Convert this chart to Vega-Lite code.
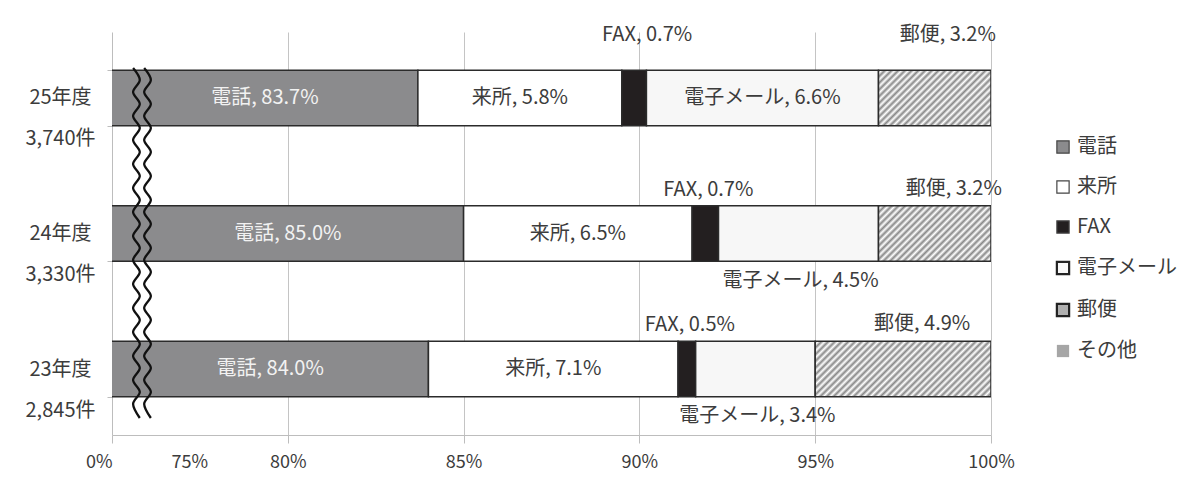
{
  "$schema": "https://vega.github.io/schema/vega-lite/v6.json",
  "width": 879,
  "height": 403,
  "autosize": {"type": "none"},
  "padding": {"left": 112, "top": 32, "right": 207, "bottom": 53},
  "background": "white",
  "config": {"font": "Noto Sans CJK JP", "view": {"stroke": null}},
  "datasets": {
    "bars": [
      {"year": "25年度|3,740件", "cat": "電話", "ord": 1, "value": 83.7, "lab": "電話, 83.7%"},
      {"year": "25年度|3,740件", "cat": "来所", "ord": 2, "value": 5.8, "lab": "来所, 5.8%"},
      {"year": "25年度|3,740件", "cat": "FAX", "ord": 3, "value": 0.7, "lab": "FAX, 0.7%"},
      {"year": "25年度|3,740件", "cat": "電子メール", "ord": 4, "value": 6.6, "lab": "電子メール, 6.6%"},
      {"year": "25年度|3,740件", "cat": "郵便", "ord": 5, "value": 3.2, "lab": "郵便, 3.2%"},
      {"year": "24年度|3,330件", "cat": "電話", "ord": 1, "value": 85.0, "lab": "電話, 85.0%"},
      {"year": "24年度|3,330件", "cat": "来所", "ord": 2, "value": 6.5, "lab": "来所, 6.5%"},
      {"year": "24年度|3,330件", "cat": "FAX", "ord": 3, "value": 0.75, "lab": "FAX, 0.7%"},
      {"year": "24年度|3,330件", "cat": "電子メール", "ord": 4, "value": 4.55, "lab": "電子メール, 4.5%"},
      {"year": "24年度|3,330件", "cat": "郵便", "ord": 5, "value": 3.2, "lab": "郵便, 3.2%"},
      {"year": "23年度|2,845件", "cat": "電話", "ord": 1, "value": 84.0, "lab": "電話, 84.0%"},
      {"year": "23年度|2,845件", "cat": "来所", "ord": 2, "value": 7.1, "lab": "来所, 7.1%"},
      {"year": "23年度|2,845件", "cat": "FAX", "ord": 3, "value": 0.5, "lab": "FAX, 0.5%"},
      {"year": "23年度|2,845件", "cat": "電子メール", "ord": 4, "value": 3.4, "lab": "電子メール, 3.4%"},
      {"year": "23年度|2,845件", "cat": "郵便", "ord": 5, "value": 5.0, "lab": "郵便, 4.9%"}
    ],
    "wave": [
      {"g": 1, "wy": 36, "wx": 75.6}, {"g": 1, "wy": 48, "wx": 75.79}, {"g": 1, "wy": 60, "wx": 75.6}, {"g": 1, "wy": 72, "wx": 75.79},
      {"g": 1, "wy": 84, "wx": 75.6}, {"g": 1, "wy": 96, "wx": 75.79}, {"g": 1, "wy": 108, "wx": 75.6}, {"g": 1, "wy": 120, "wx": 75.79},
      {"g": 1, "wy": 132, "wx": 75.6}, {"g": 1, "wy": 144, "wx": 75.79}, {"g": 1, "wy": 156, "wx": 75.6}, {"g": 1, "wy": 168, "wx": 75.79},
      {"g": 1, "wy": 180, "wx": 75.6}, {"g": 1, "wy": 192, "wx": 75.79}, {"g": 1, "wy": 204, "wx": 75.6}, {"g": 1, "wy": 216, "wx": 75.79},
      {"g": 1, "wy": 228, "wx": 75.6}, {"g": 1, "wy": 240, "wx": 75.79}, {"g": 1, "wy": 252, "wx": 75.6}, {"g": 1, "wy": 264, "wx": 75.79},
      {"g": 1, "wy": 276, "wx": 75.6}, {"g": 1, "wy": 288, "wx": 75.79}, {"g": 1, "wy": 300, "wx": 75.6}, {"g": 1, "wy": 312, "wx": 75.79},
      {"g": 1, "wy": 324, "wx": 75.6}, {"g": 1, "wy": 336, "wx": 75.79}, {"g": 1, "wy": 348, "wx": 75.6}, {"g": 1, "wy": 360, "wx": 75.79},
      {"g": 1, "wy": 372, "wx": 75.6}, {"g": 1, "wy": 386, "wx": 75.79},
      {"g": 2, "wy": 36, "wx": 75.915}, {"g": 2, "wy": 48, "wx": 76.105}, {"g": 2, "wy": 60, "wx": 75.915}, {"g": 2, "wy": 72, "wx": 76.105},
      {"g": 2, "wy": 84, "wx": 75.915}, {"g": 2, "wy": 96, "wx": 76.105}, {"g": 2, "wy": 108, "wx": 75.915}, {"g": 2, "wy": 120, "wx": 76.105},
      {"g": 2, "wy": 132, "wx": 75.915}, {"g": 2, "wy": 144, "wx": 76.105}, {"g": 2, "wy": 156, "wx": 75.915}, {"g": 2, "wy": 168, "wx": 76.105},
      {"g": 2, "wy": 180, "wx": 75.915}, {"g": 2, "wy": 192, "wx": 76.105}, {"g": 2, "wy": 204, "wx": 75.915}, {"g": 2, "wy": 216, "wx": 76.105},
      {"g": 2, "wy": 228, "wx": 75.915}, {"g": 2, "wy": 240, "wx": 76.105}, {"g": 2, "wy": 252, "wx": 75.915}, {"g": 2, "wy": 264, "wx": 76.105},
      {"g": 2, "wy": 276, "wx": 75.915}, {"g": 2, "wy": 288, "wx": 76.105}, {"g": 2, "wy": 300, "wx": 75.915}, {"g": 2, "wy": 312, "wx": 76.105},
      {"g": 2, "wy": 324, "wx": 75.915}, {"g": 2, "wy": 336, "wx": 76.105}, {"g": 2, "wy": 348, "wx": 75.915}, {"g": 2, "wy": 360, "wx": 76.105},
      {"g": 2, "wy": 372, "wx": 75.915}, {"g": 2, "wy": 386, "wx": 76.105}
    ]
  },
  "layer": [
    {
      "data": {"name": "bars"},
      "transform": [
        {"stack": "value", "groupby": ["year"], "sort": [{"field": "ord", "order": "ascending"}], "as": ["x0", "x1"]},
        {"calculate": "(max(datum.x0, 75) + datum.x1) / 2", "as": "mid"}
      ],
      "encoding": {
        "y": {
          "field": "year", "type": "nominal", "title": null,
          "sort": ["25年度|3,740件", "24年度|3,330件", "23年度|2,845件"],
          "scale": {"paddingInner": 0.59, "paddingOuter": 0.282},
          "axis": {
            "labelExpr": "isValid(datum.value) ? split(datum.value, '|') : ''",
            "labelFontSize": 20, "labelColor": "#3c3c3c",
            "labelAlign": "center", "labelBaseline": "middle",
            "labelLineHeight": 41, "labelOffset": 0, "labelPadding": 47,
            "tickSize": 5, "tickColor": "#bdbdbd", "domainColor": "#bdbdbd",
            "tickBand": "extent", "labelBound": false, "labelOverlap": false
          }
        }
      },
      "layer": [
        {
          "mark": {"type": "bar", "clip": true, "stroke": "#2b2b2b", "strokeWidth": 1.5},
          "encoding": {
            "x": {
              "field": "x0", "type": "quantitative", "title": null,
              "scale": {"domain": [75, 100], "nice": false, "zero": false},
              "axis": {
                "values": [75, 77.2, 80, 85, 90, 95, 100],
                "labelExpr": "datum.value == 75 ? '0%' : (datum.value == 77.2 ? '75%' : datum.value + '%')",
                "grid": true,
                "gridColor": {"condition": {"test": "datum.value == 75 || datum.value == 77.2", "value": "transparent"}, "value": "#c4c4c4"},
                "tickColor": {"condition": {"test": "datum.value == 77.2", "value": "transparent"}, "value": "#bdbdbd"},
                "labelAlign": {"condition": {"test": "datum.value == 75", "value": "right"}, "value": "center"},
                "domainColor": "#bdbdbd", "tickSize": 8,
                "labelFontSize": 18, "labelColor": "#3c3c3c", "labelPadding": 10,
                "labelFlush": false, "labelOverlap": false
              }
            },
            "x2": {"field": "x1"},
            "fill": {
              "field": "cat", "type": "nominal",
              "scale": {
                "domain": ["電話", "来所", "FAX", "電子メール", "郵便", "その他"],
                "range": ["#8b8b8d", "#ffffff", "#231f20", "#f7f7f7", "#b0b0b0", "#a6a6a6"]
              },
              "condition": [
                {"test": "datum.cat == '郵便' && substring(datum.year, 0, 2) == '23'", "value": {"gradient": "linear", "x1": 0, "y1": 0, "x2": 1.733, "y2": 0.548, "stops": [
                  {"offset": 0, "color": "#888"}, {"offset": 0.01, "color": "#fff"}, {"offset": 0.02, "color": "#888"}, {"offset": 0.03, "color": "#fff"}, {"offset": 0.04, "color": "#888"}, {"offset": 0.05, "color": "#fff"}, {"offset": 0.06, "color": "#888"}, {"offset": 0.07, "color": "#fff"}, {"offset": 0.08, "color": "#888"}, {"offset": 0.09, "color": "#fff"},
                  {"offset": 0.10, "color": "#888"}, {"offset": 0.11, "color": "#fff"}, {"offset": 0.12, "color": "#888"}, {"offset": 0.13, "color": "#fff"}, {"offset": 0.14, "color": "#888"}, {"offset": 0.15, "color": "#fff"}, {"offset": 0.16, "color": "#888"}, {"offset": 0.17, "color": "#fff"}, {"offset": 0.18, "color": "#888"}, {"offset": 0.19, "color": "#fff"},
                  {"offset": 0.20, "color": "#888"}, {"offset": 0.21, "color": "#fff"}, {"offset": 0.22, "color": "#888"}, {"offset": 0.23, "color": "#fff"}, {"offset": 0.24, "color": "#888"}, {"offset": 0.25, "color": "#fff"}, {"offset": 0.26, "color": "#888"}, {"offset": 0.27, "color": "#fff"}, {"offset": 0.28, "color": "#888"}, {"offset": 0.29, "color": "#fff"},
                  {"offset": 0.30, "color": "#888"}, {"offset": 0.31, "color": "#fff"}, {"offset": 0.32, "color": "#888"}, {"offset": 0.33, "color": "#fff"}, {"offset": 0.34, "color": "#888"}, {"offset": 0.35, "color": "#fff"}, {"offset": 0.36, "color": "#888"}, {"offset": 0.37, "color": "#fff"}, {"offset": 0.38, "color": "#888"}, {"offset": 0.39, "color": "#fff"},
                  {"offset": 0.40, "color": "#888"}, {"offset": 0.41, "color": "#fff"}, {"offset": 0.42, "color": "#888"}, {"offset": 0.43, "color": "#fff"}, {"offset": 0.44, "color": "#888"}, {"offset": 0.45, "color": "#fff"}, {"offset": 0.46, "color": "#888"}, {"offset": 0.47, "color": "#fff"}, {"offset": 0.48, "color": "#888"}, {"offset": 0.49, "color": "#fff"},
                  {"offset": 0.50, "color": "#888"}, {"offset": 0.51, "color": "#fff"}, {"offset": 0.52, "color": "#888"}, {"offset": 0.53, "color": "#fff"}, {"offset": 0.54, "color": "#888"}, {"offset": 0.55, "color": "#fff"}, {"offset": 0.56, "color": "#888"}, {"offset": 0.57, "color": "#fff"}, {"offset": 0.58, "color": "#888"}, {"offset": 0.59, "color": "#fff"},
                  {"offset": 0.60, "color": "#888"}, {"offset": 0.61, "color": "#fff"}, {"offset": 0.62, "color": "#888"}, {"offset": 0.63, "color": "#fff"}, {"offset": 0.64, "color": "#888"}, {"offset": 0.65, "color": "#fff"}, {"offset": 0.66, "color": "#888"}, {"offset": 0.67, "color": "#fff"}, {"offset": 0.68, "color": "#888"}, {"offset": 0.69, "color": "#fff"},
                  {"offset": 0.70, "color": "#888"}
                ]}},
                {"test": "datum.cat == '郵便'", "value": {"gradient": "linear", "x1": 0, "y1": 0, "x2": 2.395, "y2": 1.185, "stops": [
                  {"offset": 0, "color": "#888"}, {"offset": 0.01, "color": "#fff"}, {"offset": 0.02, "color": "#888"}, {"offset": 0.03, "color": "#fff"}, {"offset": 0.04, "color": "#888"}, {"offset": 0.05, "color": "#fff"}, {"offset": 0.06, "color": "#888"}, {"offset": 0.07, "color": "#fff"}, {"offset": 0.08, "color": "#888"}, {"offset": 0.09, "color": "#fff"},
                  {"offset": 0.10, "color": "#888"}, {"offset": 0.11, "color": "#fff"}, {"offset": 0.12, "color": "#888"}, {"offset": 0.13, "color": "#fff"}, {"offset": 0.14, "color": "#888"}, {"offset": 0.15, "color": "#fff"}, {"offset": 0.16, "color": "#888"}, {"offset": 0.17, "color": "#fff"}, {"offset": 0.18, "color": "#888"}, {"offset": 0.19, "color": "#fff"},
                  {"offset": 0.20, "color": "#888"}, {"offset": 0.21, "color": "#fff"}, {"offset": 0.22, "color": "#888"}, {"offset": 0.23, "color": "#fff"}, {"offset": 0.24, "color": "#888"}, {"offset": 0.25, "color": "#fff"}, {"offset": 0.26, "color": "#888"}, {"offset": 0.27, "color": "#fff"}, {"offset": 0.28, "color": "#888"}, {"offset": 0.29, "color": "#fff"},
                  {"offset": 0.30, "color": "#888"}, {"offset": 0.31, "color": "#fff"}, {"offset": 0.32, "color": "#888"}, {"offset": 0.33, "color": "#fff"}, {"offset": 0.34, "color": "#888"}, {"offset": 0.35, "color": "#fff"}, {"offset": 0.36, "color": "#888"}, {"offset": 0.37, "color": "#fff"}, {"offset": 0.38, "color": "#888"}, {"offset": 0.39, "color": "#fff"},
                  {"offset": 0.40, "color": "#888"}, {"offset": 0.41, "color": "#fff"}, {"offset": 0.42, "color": "#888"}, {"offset": 0.43, "color": "#fff"}, {"offset": 0.44, "color": "#888"}, {"offset": 0.45, "color": "#fff"}, {"offset": 0.46, "color": "#888"}, {"offset": 0.47, "color": "#fff"}, {"offset": 0.48, "color": "#888"}, {"offset": 0.49, "color": "#fff"},
                  {"offset": 0.50, "color": "#888"}, {"offset": 0.51, "color": "#fff"}, {"offset": 0.52, "color": "#888"}
                ]}}
              ],
              "legend": {
                "orient": "none", "legendX": 941, "legendY": 105, "title": null, "padding": 0,
                "symbolType": "square", "symbolSize": 150, "symbolStrokeWidth": 1.5, "symbolStrokeColor": "#333",
                "labelFontSize": 20, "labelColor": "#3c3c3c", "labelOffset": 4, "rowPadding": 20,
                "encode": {
                  "symbols": {
                    "update": {
                      "stroke": {"signal": "datum.value == 'その他' ? 'transparent' : (datum.value == '電子メール' || datum.value == '郵便' ? '#222' : '#444')"},
                      "strokeWidth": {"signal": "datum.value == '電子メール' || datum.value == '郵便' ? 2.2 : 1.2"}
                    }
                  }
                }
              }
            }
          }
        },
        {
          "transform": [{"filter": "datum.cat == '電話'"}],
          "mark": {"type": "text", "fontSize": 20, "color": "#f2f2f2"},
          "encoding": {"x": {"field": "mid", "type": "quantitative", "title": null}, "text": {"field": "lab"}}
        },
        {
          "transform": [{"filter": "datum.cat == '来所' || (datum.cat == '電子メール' && substring(datum.year, 0, 2) == '25')"}],
          "mark": {"type": "text", "fontSize": 20, "color": "#3c3c3c"},
          "encoding": {"x": {"field": "mid", "type": "quantitative", "title": null}, "text": {"field": "lab"}}
        },
        {
          "transform": [{"filter": "(datum.cat == 'FAX' || datum.cat == '郵便') && substring(datum.year, 0, 2) == '25'"}],
          "mark": {"type": "text", "fontSize": 20, "color": "#3c3c3c", "dx": 13, "dy": -63},
          "encoding": {"x": {"field": "mid", "type": "quantitative", "title": null}, "text": {"field": "lab"}}
        },
        {
          "transform": [{"filter": "datum.cat == 'FAX' && substring(datum.year, 0, 2) != '25'"}],
          "mark": {"type": "text", "fontSize": 20, "color": "#3c3c3c", "dx": 3, "dy": -44},
          "encoding": {"x": {"field": "mid", "type": "quantitative", "title": null}, "text": {"field": "lab"}}
        },
        {
          "transform": [{"filter": "datum.cat == '郵便' && substring(datum.year, 0, 2) != '25'"}],
          "mark": {"type": "text", "fontSize": 20, "color": "#3c3c3c", "dx": 19, "dy": -45},
          "encoding": {"x": {"field": "mid", "type": "quantitative", "title": null}, "text": {"field": "lab"}}
        },
        {
          "transform": [{"filter": "datum.cat == '電子メール' && substring(datum.year, 0, 2) != '25'"}],
          "mark": {"type": "text", "fontSize": 20, "color": "#3c3c3c", "dx": 2, "dy": 47},
          "encoding": {"x": {"field": "mid", "type": "quantitative", "title": null}, "text": {"field": "lab"}}
        }
      ]
    },
    {
      "data": {"name": "wave"},
      "mark": {"type": "line", "interpolate": "cardinal", "stroke": "#111111", "strokeWidth": 2.3},
      "encoding": {
        "x": {"field": "wx", "type": "quantitative", "title": null, "scale": {"domain": [75, 100], "nice": false, "zero": false}},
        "y": {"field": "wy", "type": "quantitative", "scale": {"domain": [0, 403], "reverse": true, "nice": false, "zero": false}, "axis": null},
        "detail": {"field": "g", "type": "nominal"},
        "order": {"field": "wy", "type": "quantitative"}
      }
    }
  ],
  "resolve": {"scale": {"y": "independent"}}
}
